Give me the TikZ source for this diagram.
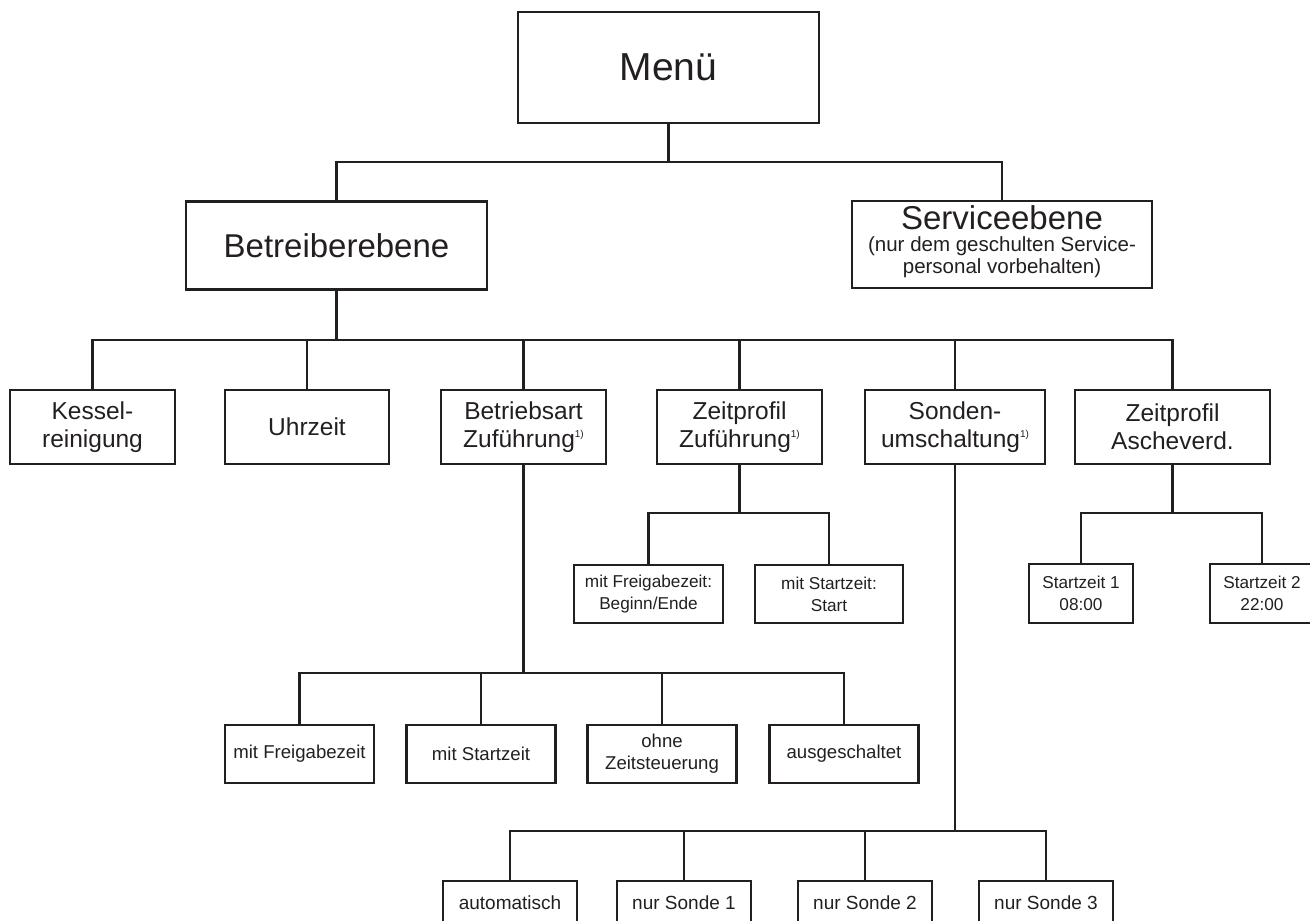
\documentclass[tikz,border=0pt]{standalone}
\usepackage{fontspec}
\setmainfont{Liberation Sans}
\definecolor{ink}{RGB}{35,31,32}
\newcommand{\fnote}{\raisebox{9.5pt}{\fontsize{10}{10}\selectfont 1)}}

\begin{document}
\begin{tikzpicture}[x=1pt,y=-1pt,line width=2.6pt,ink]
\tikzstyle{every node}+=[inner sep=0pt,align=center,text=ink]
\tikzstyle{menubox}=[draw,minimum width=301pt,minimum height=111pt,font=\fontsize{39}{44}\selectfont]
\tikzstyle{levelbox}=[draw,minimum height=88pt,font=\fontsize{33}{36}\selectfont]
\tikzstyle{itembox}=[draw,minimum height=74pt,font=\fontsize{24.5}{28}\selectfont]
\tikzstyle{leafbox}=[draw,minimum width=149pt,minimum height=58pt,font=\fontsize{18.6}{22}\selectfont]
\tikzstyle{smallbox}=[draw,minimum height=58pt,font=\fontsize{17.2}{22}\selectfont]
\useasboundingbox (0,0) rectangle (1310,921);

\node[menubox] (menu) at (668.5,67.5) {Menü};
\node[levelbox,minimum width=301pt] (bet) at (336.5,245.5) {Betreiberebene};
\node[levelbox,minimum width=300pt,minimum height=87pt] (srv) at (1002,244.5) {};
\node[font=\fontsize{20.5}{22}\selectfont] (srvtxt) at (1002,242) {{\fontsize{33}{36}\selectfont Serviceebene}\\(nur dem geschulten Service-\\personal vorbehalten)};

\node[itembox,minimum width=165pt] (kessel) at (92.5,427) {Kessel-\\reinigung};
\node[itembox,minimum width=164pt] (uhr) at (307,427) {Uhrzeit};
\node[itembox,minimum width=165pt] (bart) at (523.5,427) {Betriebsart\\Zuführung\fnote};
\node[itembox,minimum width=165pt] (zpz) at (739.5,427) {Zeitprofil\\Zuführung\fnote};
\node[itembox,minimum width=180pt] (sond) at (955,427) {Sonden-\\umschaltung\fnote};
\node[itembox,minimum width=195pt] (zpa) at (1172.5,427) {Zeitprofil\\Ascheverd.};

\node[smallbox,minimum width=149pt] (zfrei) at (648.5,594) {mit Freigabezeit:\\Beginn/Ende};
\node[smallbox,minimum width=148pt] (zstart) at (829,594) {mit Startzeit:\\Start};
\node[smallbox,minimum width=104pt,minimum height=59pt] (st1) at (1081,593.5) {Startzeit 1\\08:00};
\node[smallbox,minimum width=104pt,minimum height=59pt] (st2) at (1262,593.5) {Startzeit 2\\22:00};

\node[leafbox] (bfrei) at (299.5,754) {mit Freigabezeit};
\node[leafbox] (bstart) at (481,754) {mit Startzeit};
\node[leafbox] (bohne) at (662,754) {ohne\\Zeitsteuerung};
\node[leafbox] (baus) at (844,754) {ausgeschaltet};

\node[leafbox,minimum width=134pt,minimum height=43pt,font=\fontsize{19}{22}\selectfont] (sauto) at (510,902.5) {automatisch};
\node[leafbox,minimum width=134pt,minimum height=43pt,font=\fontsize{19}{22}\selectfont] (sone) at (684,902.5) {nur Sonde 1};
\node[leafbox,minimum width=134pt,minimum height=43pt,font=\fontsize{19}{22}\selectfont] (stwo) at (865,902.5) {nur Sonde 2};
\node[leafbox,minimum width=134pt,minimum height=43pt,font=\fontsize{19}{22}\selectfont] (sthree) at (1046,902.5) {nur Sonde 3};

\coordinate (j1) at (0,162);
\coordinate (j2) at (0,340);
\coordinate (j3) at (0,673);
\coordinate (j4) at (0,513);
\coordinate (j5) at (0,831);

\draw (menu.south) -- (menu.south |- j1) -| (bet.north);
\draw (menu.south) -- (menu.south |- j1) -| (srv.north);
\foreach \n in {kessel,uhr,bart,zpz,sond,zpa}
  \draw (bet.south) -- (bet.south |- j2) -| (\n.north);
\foreach \n in {bfrei,bstart,bohne,baus}
  \draw (bart.south) -- (bart.south |- j3) -| (\n.north);
\foreach \n in {zfrei,zstart}
  \draw (zpz.south) -- (zpz.south |- j4) -| (\n.north);
\foreach \n in {st1,st2}
  \draw (zpa.south) -- (zpa.south |- j4) -| (\n.north);
\foreach \n in {sauto,sone,stwo,sthree}
  \draw (sond.south) -- (sond.south |- j5) -| (\n.north);
\end{tikzpicture}
\end{document}
